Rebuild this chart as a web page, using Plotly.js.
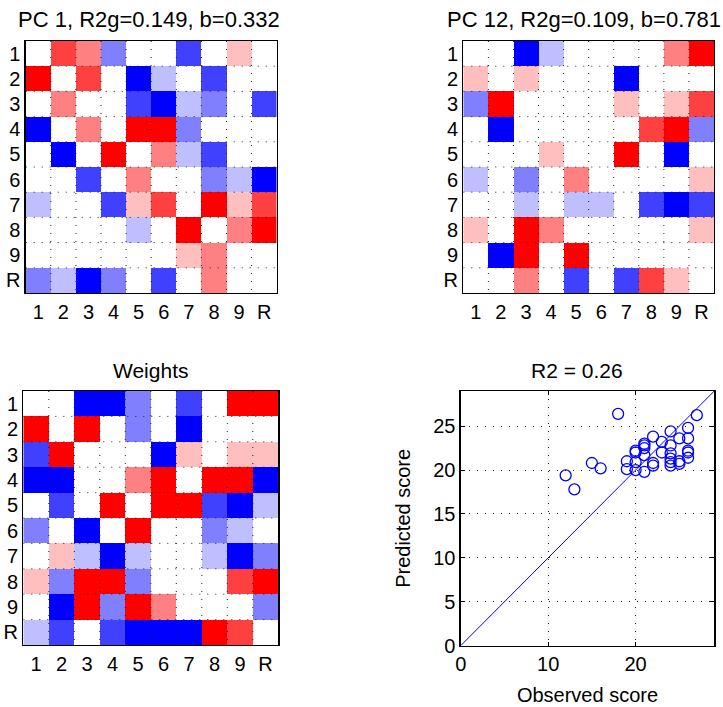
<!DOCTYPE html>
<html>
<head>
<meta charset="utf-8">
<script src="https://cdn.plot.ly/plotly-3.0.1.min.js"></script>
<style>html,body{margin:0;padding:0;background:#fff;}#chart{width:723px;height:707px;}</style>
</head>
<body>
<div id="chart"></div>
<script>
// ---------- DATA ----------
const labels = ['1','2','3','4','5','6','7','8','9','R'];

const pc1Values = [
  [0, 0.75, 0.5, -0.5, 0, 0, -0.75, 0, 0.25, 0],
  [1, 0, 0.75, 0, -1, -0.25, 0, -0.75, 0, 0],
  [0, 0.5, 0, 0, -0.75, -1, -0.25, -0.5, 0, -0.75],
  [-1, 0, 0.5, 0, 1, 1, -0.5, 0, 0, 0],
  [0, -1, 0, 1, 0, 0.5, -0.25, -0.75, 0, 0],
  [0, 0, -0.75, 0, 0.5, 0, 0, -0.5, -0.25, -1],
  [-0.25, 0, 0, -0.75, 0.25, 0.75, 0, 1, 0.25, 0.75],
  [0, 0, 0, 0, -0.25, 0, 1, 0, 0.5, 1],
  [0, 0, 0, 0, 0, 0, 0.25, 0.5, 0, 0],
  [-0.5, -0.25, -1, -0.5, 0, -0.75, 0, 0.5, 0, 0]
];

const pc12Values = [
  [0, 0, -1, -0.25, 0, 0, 0, 0, 0.5, 1],
  [0.25, 0, 0.25, 0, 0, 0, -1, 0, 0, 0],
  [-0.5, 1, 0, 0, 0, 0, 0.25, 0, 0.25, 0.75],
  [0, -1, 0, 0, 0, 0, 0, 0.75, 1, -0.5],
  [0, 0, 0, 0.25, 0, 0, 1, 0, -1, 0],
  [-0.25, 0, -0.5, 0, 0.5, 0, 0, 0, 0, 0.25],
  [0, 0, -0.25, 0, -0.25, -0.25, 0, -0.75, -1, -0.75],
  [0.25, 0, 1, 0.5, 0, 0, 0, 0, 0, 0.25],
  [0, -1, 1, 0, 1, 0, 0, 0, 0, 0],
  [0, 0, 0.5, 0, -0.75, 0, -0.75, 0.75, 0.25, 0]
];

const weightValues = [
  [0, 0, -1, -1, -0.5, 0, -0.75, 0, 1, 1],
  [1, 0, 1, 0, -0.5, 0, -1, 0, 0, 0],
  [-0.75, 1, 0, 0, 0, -1, 0.25, 0, 0.25, 0.25],
  [-1, -1, 0, 0, 0.5, 1, 0, 1, 1, -1],
  [0, -0.75, 0, 1, 0, 1, 1, -0.75, -1, -0.25],
  [-0.5, 0, -1, 0, 1, 0, 0, -0.5, -0.25, 0],
  [0, 0.25, -0.25, -1, -0.25, 0, 0, -0.25, -1, -0.5],
  [0.25, -0.5, 1, 1, -0.5, 0, 0, 0, 0.75, 1],
  [0, -1, 1, -0.5, 1, 0.5, 0, 0, 0, -0.5],
  [-0.25, -0.75, 0, -0.75, -1, -1, -1, 1, 0.75, 0]
];

const observed = [18, 12, 13, 15, 16, 19, 19, 20, 20, 20, 21, 21, 21, 21, 22, 22, 22, 23, 23, 24, 24, 24, 24, 24, 24, 25, 25, 25, 26, 26, 26, 26, 26, 27, 20, 21];
const predicted = [26.4, 19.4, 17.8, 20.8, 20.2, 21.0, 20.1, 22.2, 20.9, 20.0, 23.0, 22.5, 21.7, 19.8, 23.8, 20.8, 20.5, 23.2, 22.0, 24.4, 22.8, 21.9, 21.3, 20.9, 20.5, 23.6, 21.0, 20.7, 24.8, 23.6, 22.2, 22.0, 21.4, 26.25, 22.0, 22.8];

const titles = ['PC 1, R2g=0.149, b=0.332', 'PC 12, R2g=0.109, b=0.781', 'Weights', 'R2 = 0.26'];
const scatterRange = [0, 29];

// ---------- LAYOUT HELPERS ----------
const W = 723, H = 707;
const px = v => v / W;
const py = v => 1 - v / H;
const FONT = 'Liberation Sans, Arial, Helvetica, sans-serif';
const TICK = 20;

const colorscale = [[0, '#0000ff'], [0.5, '#ffffff'], [1, '#ff0000']];
const idx = labels.map((_, i) => i + 1);

function hm(z, xa, ya) {
  return {
    type: 'heatmap', z: z, x: idx, y: idx, xaxis: xa, yaxis: ya,
    colorscale: colorscale, zmin: -1, zmax: 1, showscale: false, hoverinfo: 'skip'
  };
}

const traces = [
  hm(pc1Values, 'x', 'y'),
  hm(pc12Values, 'x2', 'y2'),
  hm(weightValues, 'x3', 'y3'),
  {
    type: 'scatter', mode: 'lines', x: scatterRange, y: scatterRange,
    xaxis: 'x4', yaxis: 'y4', line: {color: '#0000ff', width: 1}, hoverinfo: 'skip'
  },
  {
    type: 'scatter', mode: 'markers', x: observed, y: predicted,
    xaxis: 'x4', yaxis: 'y4',
    marker: {symbol: 'circle-open', size: 11, color: '#0000ff', line: {color: '#0000ff', width: 1.3}},
    hoverinfo: 'skip'
  }
];

function hmX(domain) {
  return {
    domain: domain, range: [0.5, 10.5], tickvals: idx, ticktext: labels,
    showgrid: false, zeroline: false, showline: true, mirror: true,
    linecolor: '#000', linewidth: 1.3, ticks: '', fixedrange: true,
    tickfont: {family: FONT, size: TICK, color: '#000'}, ticklabelstandoff: 1
  };
}
function hmY(domain) {
  return {
    domain: domain, range: [10.5, 0.5], tickvals: idx, ticktext: labels,
    showgrid: false, zeroline: false, showline: true, mirror: true,
    linecolor: '#000', linewidth: 1.3, ticks: '', fixedrange: true,
    tickfont: {family: FONT, size: TICK, color: '#000'}, ticklabelstandoff: 0
  };
}

const hm1 = {x: [px(25.7), px(276.7)], y: [py(293), py(41)]};
const hm2 = {x: [px(463.3), px(714)], y: [py(293), py(41)]};
const hm3 = {x: [px(23.3), px(278.3)], y: [py(645), py(391)]};
const sc = {x: [px(460.7), px(714.3)], y: [py(645.7), py(391)]};

// dotted grid lines at cell boundaries (drawn above heatmap)
const shapes = [];
const bounds = idx.slice(0, 9).map(v => v + 0.5);
[['x', 'y'], ['x2', 'y2'], ['x3', 'y3']].forEach(([xa, ya]) => {
  bounds.forEach(b => {
    shapes.push({type: 'line', xref: xa, yref: ya, x0: b, x1: b, y0: 0.5, y1: 10.5,
      line: {color: '#222', width: 1, dash: '1px,7px'}, layer: 'above'});
    shapes.push({type: 'line', xref: xa, yref: ya, y0: b, y1: b, x0: 0.5, x1: 10.5,
      line: {color: '#222', width: 1, dash: '1px,7px'}, layer: 'above'});
  });
});

function ann(text, xpx, ypx, size) {
  return {text: text, xref: 'paper', yref: 'paper', x: px(xpx), y: py(ypx),
    xanchor: 'center', yanchor: 'middle', showarrow: false,
    font: {family: FONT, size: size, color: '#000'}};
}

const layout = {
  width: W, height: H, margin: {l: 0, r: 0, t: 0, b: 0},
  paper_bgcolor: '#fff', plot_bgcolor: '#fff', showlegend: false,
  font: {family: FONT, color: '#000'},
  xaxis: Object.assign(hmX(hm1.x), {anchor: 'y'}),
  yaxis: Object.assign(hmY(hm1.y), {anchor: 'x'}),
  xaxis2: Object.assign(hmX(hm2.x), {anchor: 'y2'}),
  yaxis2: Object.assign(hmY(hm2.y), {anchor: 'x2'}),
  xaxis3: Object.assign(hmX(hm3.x), {anchor: 'y3'}),
  yaxis3: Object.assign(hmY(hm3.y), {anchor: 'x3'}),
  xaxis4: {
    domain: sc.x, anchor: 'y4', range: scatterRange, tickvals: [0, 10, 20],
    showgrid: true, griddash: '1px,7px', gridcolor: '#222', gridwidth: 1,
    zeroline: false, showline: true, mirror: 'ticks', linecolor: '#000', linewidth: 1.3,
    ticks: 'inside', ticklen: 4, tickcolor: '#000', fixedrange: true,
    tickfont: {family: FONT, size: TICK, color: '#000'},
    title: {text: 'Observed score', font: {family: FONT, size: 20, color: '#000'}, standoff: 14}
  },
  yaxis4: {
    domain: sc.y, anchor: 'x4', range: scatterRange, tickvals: [0, 5, 10, 15, 20, 25],
    showgrid: true, griddash: '1px,7px', gridcolor: '#222', gridwidth: 1,
    zeroline: false, showline: true, mirror: 'ticks', linecolor: '#000', linewidth: 1.3,
    ticks: 'inside', ticklen: 4, tickcolor: '#000', fixedrange: true,
    tickfont: {family: FONT, size: TICK, color: '#000'},
    title: {text: 'Predicted score', font: {family: FONT, size: 20, color: '#000'}, standoff: 17}
  },
  shapes: shapes,
  annotations: [
    ann(titles[0], 149, 19, 22),
    ann(titles[1], 584, 19, 22),
    ann(titles[2], 150, 370, 21),
    ann(titles[3], 577, 370, 21)
  ]
};

Plotly.newPlot('chart', traces, layout, {displayModeBar: false, staticPlot: true});
</script>
</body>
</html>
